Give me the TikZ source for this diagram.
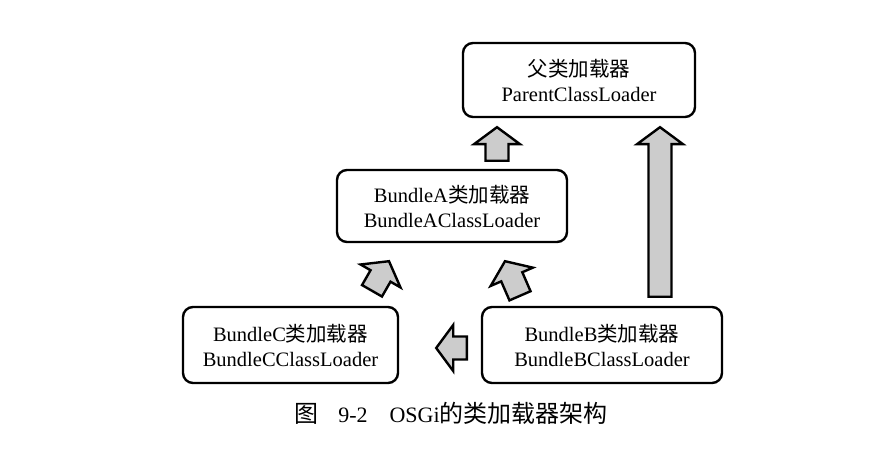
\documentclass[tikz,border=0pt]{standalone}
\usepackage{fontspec}
\setmainfont{Liberation Serif}
\newfontfamily\cjk{Noto Sans CJK SC}
\usetikzlibrary{calc}

\tikzset{
  loader/.style={shape=rectangle,draw=black,line width=2.4pt,rounded corners=10pt,
    align=center,inner sep=0pt,minimum height=74pt,font=\fontsize{20.5}{25}\selectfont},
  fatarrow/.style={draw=black,line width=2.4pt,fill=gray!40,line join=miter,
    to path={
      let \p1=(\tikztostart), \p2=(\tikztotarget),
          \n1={atan2(\y2-\y1,\x2-\x1)}, \n2={veclen(\x2-\x1,\y2-\y1)-17pt}
      in ($(\p1)+(\n1+90:11.5pt)$)
      -- ($(\p1)+(\n1:\n2)+(\n1+90:11.5pt)$)
      -- ($(\p1)+(\n1:\n2)+(\n1+90:23pt)$)
      -- (\p2)
      -- ($(\p1)+(\n1:\n2)+(\n1-90:23pt)$)
      -- ($(\p1)+(\n1:\n2)+(\n1-90:11.5pt)$)
      -- ($(\p1)+(\n1-90:11.5pt)$) -- cycle}}
}

\begin{document}
\begin{tikzpicture}[x=1pt,y=1pt]
			\useasboundingbox (0,0) rectangle (887,450);

			\node[loader,minimum width=232pt] (P) at (579,370) {{\cjk 父类加载器}\\ParentClassLoader};
			\node[loader,minimum width=230pt,minimum height=72pt] (A) at (452,244) {BundleA{\cjk 类加载器}\\BundleAClassLoader};
			\node[loader,minimum width=215pt,minimum height=76pt] (C) at (290.5,105) {BundleC{\cjk 类加载器}\\BundleCClassLoader};
			\node[loader,minimum width=240pt,minimum height=76pt] (B) at (602,105) {BundleB{\cjk 类加载器}\\BundleBClassLoader};

			\draw[fatarrow] ([xshift=45pt,yshift=8pt]A.north) to ([xshift=-82pt,yshift=-9pt]P.south);
			\draw[fatarrow] ([xshift=58pt,yshift=9pt]B.north) to ([xshift=81pt,yshift=-9pt]P.south);
			\draw[fatarrow] ([xshift=81.5pt,yshift=15pt]C.north) to ([xshift=-63pt,yshift=-18pt]A.south);
			\draw[fatarrow] ([xshift=-82pt,yshift=10pt]B.north) to ([xshift=53pt,yshift=-18pt]A.south);
			\draw[fatarrow] ([xshift=-14pt,yshift=-3pt]B.west) to ([xshift=37pt,yshift=-3pt]C.east);

			\node[font=\fontsize{22}{25}\selectfont] (caption) at (451,37)
				{{\fontsize{24}{25}\selectfont\cjk 图}\hspace{20pt}9-2\hspace{22pt}OSGi{\fontsize{24}{25}\selectfont\cjk 的类加载器架构}};

		\end{tikzpicture}
\end{document}
